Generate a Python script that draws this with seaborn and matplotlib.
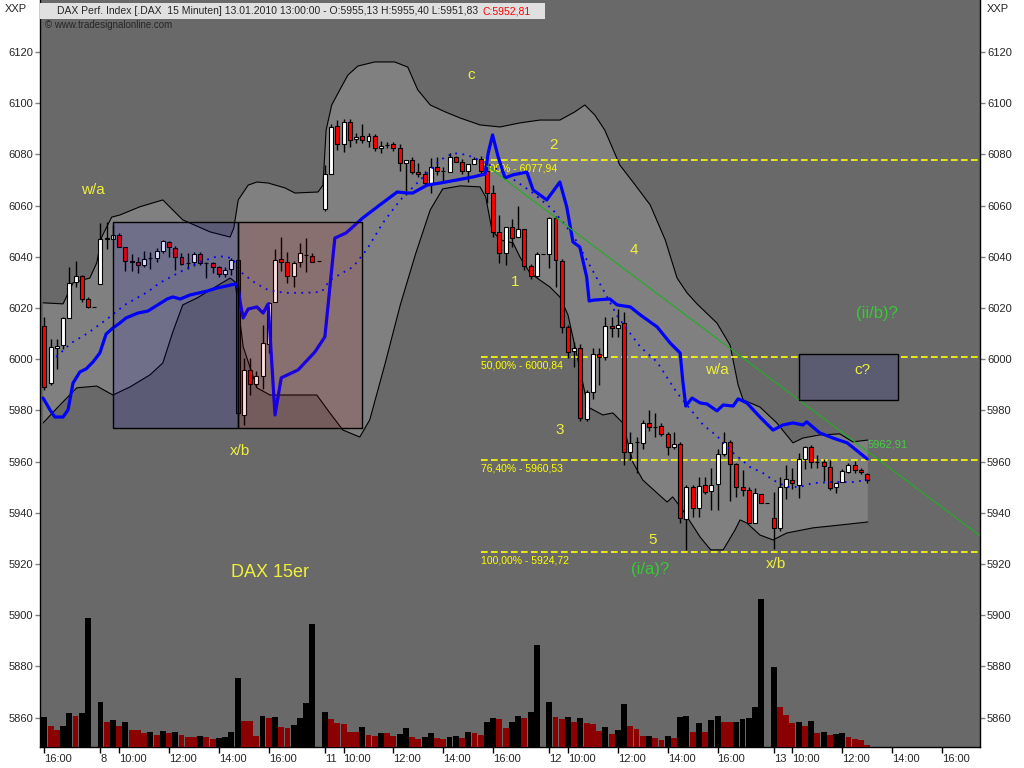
import numpy as np
import pandas as pd
import matplotlib
matplotlib.use("Agg")
import matplotlib.pyplot as plt
import seaborn as sns
from matplotlib.patches import Rectangle

# DAX 15-minute bars, 07.01.2010 16:00 ... 13.01.2010 13:00
# bar 0 = 08.01. 09:15, one session = 36 bars (09:15 ... 18:00)
first_bar = -9

opens = [6012.8, 5990.8, 6004.5, 6005.5, 6016.0, 6030.2, 6032.5, 6023.4, 6020.3,
         6029.2, 6047.0, 6046.8, 6048.4, 6044.0, 6038.5, 6038.1, 6036.6, 6039.4, 6039.4,
         6042.3, 6045.7, 6043.6, 6039.8, 6037.7, 6037.9, 6041.0, 6037.4, 6037.4, 6036.1,
         6033.2, 6035.1, 6038.6, 5978.2, 5995.8, 5990.3, 5993.4, 6005.9, 6022.5, 6039.1,
         6037.9, 6032.5, 6037.9, 6040.7, 6040.3, 6038.4, 6058.6, 6072.3, 6091.0, 6084.0,
         6092.8, 6085.9, 6087.0, 6085.4, 6087.2, 6082.4, 6083.7, 6083.9, 6082.4, 6076.5,
         6077.8, 6073.2, 6072.2, 6068.7, 6075.0, 6073.6, 6073.2, 6078.9, 6077.2, 6073.6,
         6076.1, 6078.1, 6073.6, 6065.0, 6049.8, 6041.6, 6051.5, 6047.6, 6050.7, 6036.5,
         6032.5, 6041.0, 6041.0, 6055.0, 6038.2, 6012.5, 6003.1, 6004.2, 5976.5, 5987.3,
         6002.0, 6000.7, 6013.0, 6012.1, 6014.3, 5963.9, 5967.8, 5967.4, 5975.2, 5973.6,
         5973.9, 5970.8, 5965.6, 5966.9, 5937.5, 5950.2, 5942.0, 5950.8, 5948.6, 5951.2,
         5962.9, 5967.8, 5959.1, 5950.2, 5948.9, 5935.9, 5947.2, 5943.7, 5937.8, 5933.9,
         5949.9, 5952.8, 5950.9, 5960.9, 5965.6, 5960.0, 5960.0, 5958.0, 5949.9, 5952.2,
         5955.8, 5958.6, 5956.7, 5955.1]
highs = [6016.4, 6007.8, 6007.8, 6016.5, 6035.9, 6038.5, 6033.0, 6024.4, 6020.3,
         6053.3, 6053.5, 6052.4, 6049.2, 6044.0, 6041.1, 6040.0, 6042.2, 6042.0, 6043.3,
         6046.6, 6046.2, 6044.4, 6041.4, 6041.4, 6041.8, 6041.8, 6038.1, 6037.8, 6036.5,
         6036.0, 6039.4, 6038.8, 6000.3, 6000.3, 5995.4, 6013.4, 6022.5, 6042.9, 6047.9,
         6042.0, 6038.5, 6045.3, 6047.2, 6041.6, 6038.4, 6075.9, 6092.0, 6093.5, 6094.0,
         6094.0, 6088.5, 6092.0, 6088.5, 6088.0, 6085.4, 6085.0, 6085.0, 6084.0, 6077.8,
         6079.0, 6076.5, 6073.5, 6078.5, 6078.9, 6075.2, 6080.7, 6079.5, 6078.0, 6076.1,
         6078.9, 6079.5, 6077.0, 6068.0, 6056.3, 6051.5, 6054.6, 6059.8, 6050.7, 6037.0,
         6042.0, 6041.0, 6055.5, 6056.0, 6039.0, 6013.5, 6006.8, 6006.0, 5988.0, 6004.2,
         6004.2, 6016.6, 6016.6, 6019.5, 6018.6, 5971.7, 5969.7, 5976.3, 5980.2, 5978.9,
         5975.0, 5971.5, 5971.7, 5967.5, 5950.9, 5951.0, 5954.1, 5954.0, 5957.4, 5965.0,
         5971.7, 5968.5, 5959.5, 5956.7, 5950.0, 5949.6, 5947.5, 5943.7, 5948.3, 5953.9,
         5958.6, 5957.4, 5963.3, 5966.0, 5966.5, 5962.5, 5961.0, 5960.5, 5951.5, 5957.0,
         5959.3, 5960.4, 5957.3, 5955.4]
lows = [5988.0, 5989.9, 5996.1, 6003.9, 6016.0, 6028.3, 6022.5, 6020.0, 6020.3,
        6029.2, 6043.0, 6046.8, 6044.0, 6034.6, 6034.6, 6033.6, 6036.1, 6035.1, 6038.1,
        6041.4, 6040.0, 6034.8, 6036.8, 6035.1, 6036.5, 6036.8, 6031.6, 6033.6, 6032.2,
        6032.0, 6032.9, 5978.2, 5974.3, 5986.0, 5989.3, 5988.2, 6002.5, 6022.5, 6034.6,
        6029.6, 6028.1, 6036.1, 6034.2, 6038.1, 6038.4, 6058.0, 6072.3, 6081.7, 6081.1,
        6083.0, 6084.3, 6084.3, 6083.0, 6081.5, 6080.5, 6082.4, 6081.5, 6073.6, 6064.1,
        6072.3, 6071.0, 6068.0, 6065.0, 6072.0, 6069.3, 6073.2, 6077.0, 6072.5, 6069.3,
        6076.1, 6072.5, 6060.9, 6047.9, 6037.5, 6036.8, 6044.0, 6047.6, 6035.0, 6031.5,
        6032.0, 6041.0, 6035.5, 6028.3, 6010.1, 6000.3, 5997.1, 5976.0, 5975.9, 5984.6,
        5989.9, 5999.5, 6008.8, 6008.5, 5958.7, 5960.6, 5955.7, 5965.0, 5972.0, 5969.7,
        5970.0, 5962.6, 5965.0, 5936.1, 5925.5, 5938.2, 5938.2, 5947.3, 5941.1, 5941.1,
        5962.0, 5944.4, 5946.1, 5946.5, 5935.9, 5935.9, 5943.7, 5943.7, 5926.0, 5933.0,
        5945.5, 5949.2, 5945.7, 5957.0, 5957.4, 5957.4, 5952.5, 5949.0, 5947.9, 5952.0,
        5955.5, 5955.5, 5955.3, 5951.8]
closes = [5989.0, 6004.8, 6005.0, 6016.0, 6029.6, 6032.5, 6023.6, 6020.3, 6020.3,
          6046.8, 6047.2, 6048.4, 6044.0, 6038.5, 6037.9, 6036.7, 6039.0, 6039.4, 6042.3,
          6046.2, 6043.8, 6039.8, 6037.1, 6037.7, 6041.0, 6037.4, 6037.4, 6036.1, 6033.2,
          6034.7, 6038.6, 5978.9, 5995.8, 5990.2, 5993.4, 6006.2, 6022.1, 6038.8, 6037.9,
          6032.5, 6037.4, 6041.4, 6040.7, 6038.1, 6038.4, 6072.3, 6090.8, 6084.0, 6092.8,
          6085.8, 6086.7, 6085.6, 6087.2, 6082.4, 6083.3, 6083.7, 6082.4, 6076.5, 6077.8,
          6073.0, 6072.2, 6068.7, 6075.0, 6073.6, 6073.6, 6078.9, 6077.2, 6073.6, 6076.1,
          6078.1, 6073.6, 6065.0, 6049.8, 6041.6, 6051.5, 6047.2, 6050.7, 6036.5, 6032.5,
          6041.0, 6041.0, 6055.0, 6038.8, 6012.5, 6002.9, 6004.2, 5976.9, 5987.3, 6002.0,
          6000.7, 6013.0, 6012.1, 6013.4, 5963.9, 5967.1, 5967.8, 5975.2, 5973.4, 5973.6,
          5970.8, 5965.8, 5966.7, 5937.8, 5950.0, 5942.0, 5950.5, 5948.1, 5950.9, 5963.0,
          5967.8, 5959.1, 5950.2, 5948.9, 5935.9, 5947.6, 5943.7, 5943.7, 5933.9, 5949.9,
          5953.0, 5951.5, 5960.9, 5965.6, 5960.0, 5960.0, 5958.3, 5949.8, 5951.5, 5956.4,
          5958.6, 5956.7, 5955.8, 5952.8]

volume = [30, 21, 17, 21, 34, 31, 34, 129, 0,
          45, 25, 27, 21, 25, 17, 17, 14, 15, 12,
          16, 14, 15, 12, 10, 10, 11, 10, 8, 9,
          10, 15, 69, 26, 26, 11, 31, 29, 30, 20,
          19, 22, 29, 44, 123, 0, 35, 28, 24, 23,
          15, 15, 20, 12, 11, 14, 14, 11, 13, 19,
          10, 8, 10, 14, 9, 8, 10, 11, 9, 15,
          14, 12, 25, 29, 28, 19, 25, 31, 29, 35,
          102, 0, 45, 30, 28, 30, 25, 29, 24, 23,
          16, 20, 13, 17, 43, 21, 18, 11, 11, 9,
          7, 11, 9, 30, 31, 15, 24, 15, 27, 31,
          25, 25, 25, 28, 29, 40, 148, 0, 80, 40,
          32, 24, 25, 21, 26, 14, 15, 12, 13, 14,
          10, 8, 7, 2]
volume_dir = ("krrkkrkkk" "krkrkrrrkr" "krkrrrkrrk" "kkkrrrkrkr" "rkkkkkkrrr"
              "rrkrrkrrkk" "rrkkrrkkrk" "rrkkrrkkrk" "kkkrrkrkrr" "rkrkkrrrkr"
              "rkrkkrkrkk" "rrkkkkkkkr" "rrkrkrkrkk" "rrrr")

# Bollinger bands (upper / lower) and averages, read at bar positions
bb_up_x = [-9.2, -6.0, -4.4, -1.7, -0.6, 0.2, 1.8, 3.1, 6.3, 10.0, 11.6, 13.2, 17.6, 20.8, 21.4,
           22.1, 23.7, 25.1, 26.9, 29.6, 31.2, 34.9, 35.7, 36.2, 37.1, 38.4, 39.7, 41.3, 44.0,
           47.2, 49.3, 50.9, 52.9, 55.3, 57.7, 60.9, 64.1, 67.3, 70.5, 73.7, 76.1, 77.7, 79.3,
           80.9, 83.3, 85.8, 88.2, 90.6, 92.5, 94.1, 95.7, 98.9, 101.0, 102.3, 103.1, 105.8,
           108.5, 111.1, 112.7, 115.4, 118.6, 120.7, 123.1]
bb_up_y = [6022.0, 6021.6, 6029.8, 6031.7, 6037.6, 6047.7, 6055.5, 6056.3, 6059.5, 6062.2,
           6058.3, 6054.4, 6049.7, 6047.7, 6051.3, 6062.2, 6068.0, 6069.2, 6068.8, 6066.9,
           6064.9, 6065.3, 6068.0, 6089.5, 6099.3, 6105.2, 6111.0, 6114.5, 6116.1, 6116.1,
           6114.1, 6105.2, 6099.3, 6096.6, 6094.2, 6091.5, 6090.7, 6092.3, 6093.4, 6093.4,
           6096.6, 6099.3, 6095.4, 6089.5, 6075.9, 6068.0, 6060.2, 6046.6, 6031.7, 6025.9,
           6021.6, 6014.1, 6005.5, 5989.9, 5984.1, 5981.3, 5975.1, 5967.3, 5969.2, 5970.4,
           5970.8, 5967.7, 5968.4]
bb_lo_x = [-9.2, -6.5, -3.8, -0.6, 2.0, 4.7, 7.9, 10.0, 11.6, 13.2, 15.5, 17.6, 20.8, 21.6,
           22.9, 25.1, 27.2, 34.7, 36.8, 38.9, 41.6, 43.2, 45.6, 48.1, 50.5, 52.9, 54.9, 57.7,
           60.9, 61.8, 62.8, 64.1, 66.2, 67.3, 68.9, 70.5, 72.1, 73.7, 75.0, 76.6, 78.2, 80.6,
           82.2, 83.8, 85.4, 87.0, 89.3, 90.9, 91.8, 93.4, 96.2, 97.9, 99.9, 101.8, 102.6,
           103.7, 105.8, 107.9, 110.1, 114.3, 118.6, 123.1]
bb_lo_y = [5975.1, 5982.1, 5988.8, 5989.5, 5986.0, 5989.1, 5993.8, 5998.5, 6010.6, 6021.2,
           6023.9, 6027.0, 6031.7, 6030.2, 6004.8, 5988.8, 5986.0, 5986.0, 5979.0, 5972.3,
           5969.6, 5976.3, 5997.7, 6021.2, 6040.7, 6058.3, 6066.5, 6067.7, 6067.3, 6063.4,
           6050.5, 6046.6, 6045.4, 6039.9, 6033.7, 6030.9, 6028.2, 6024.3, 6017.3, 5999.7,
           5981.3, 5978.2, 5979.0, 5975.1, 5959.8, 5952.8, 5947.7, 5944.2, 5946.2, 5941.1,
           5930.5, 5925.5, 5925.5, 5933.3, 5937.2, 5936.0, 5931.3, 5929.4, 5932.1, 5934.1,
           5935.2, 5936.4]
ma_x = [-9.2, -8.1, -7.3, -6.0, -5.2, -4.4, -3.3, -2.3, -1.2, -0.1, 0.9, 2.0, 3.1, 4.1, 6.0,
        7.6, 8.4, 10.7, 11.6, 12.8, 14.4, 17.1, 18.7, 20.3, 21.6, 22.1, 22.4, 22.9, 23.7, 25.1,
        26.1, 26.9, 28.0, 29.0, 31.7, 34.4, 36.0, 37.6, 39.4, 42.1, 44.8, 47.6, 49.2, 50.1,
        52.4, 54.5, 57.2, 59.8, 61.7, 62.2, 62.9, 63.8, 64.9, 66.2, 68.4, 69.4, 71.6, 73.7,
        74.8, 75.8, 76.9, 78.0, 78.4, 79.2, 81.7, 82.9, 85.0, 86.6, 89.3, 91.4, 93.0, 93.4,
        93.9, 94.9, 96.2, 97.3, 98.9, 99.9, 101.5, 102.3, 103.7, 105.8, 107.9, 109.5, 111.1,
        112.7, 113.3, 115.4, 117.5, 119.8, 121.8, 123.0]
ma_y = [5984.8, 5980.2, 5977.4, 5977.4, 5980.2, 5990.7, 5995.0, 5996.2, 5998.9, 6002.4,
        6009.8, 6012.2, 6014.1, 6016.1, 6018.0, 6018.8, 6020.0, 6023.5, 6024.3, 6023.5,
        6025.1, 6026.6, 6027.8, 6028.6, 6029.4, 6028.2, 6022.3, 6016.1, 6019.6, 6020.4,
        6018.0, 6021.6, 5978.2, 5992.7, 5995.8, 6002.8, 6008.7, 6047.3, 6049.3, 6055.2,
        6060.2, 6065.3, 6064.9, 6064.9, 6068.0, 6068.8, 6070.0, 6071.2, 6072.3, 6080.5,
        6087.6, 6079.0, 6070.8, 6072.0, 6073.1, 6066.1, 6062.2, 6069.2, 6059.5, 6045.8,
        6043.8, 6032.1, 6022.7, 6023.1, 6023.5, 6021.2, 6020.4, 6017.3, 6012.6, 6006.3,
        6002.4, 5991.9, 5981.7, 5984.8, 5982.9, 5982.5, 5979.8, 5982.1, 5981.7, 5984.5,
        5982.9, 5977.4, 5972.3, 5974.3, 5975.1, 5974.3, 5975.5, 5971.2, 5969.2, 5967.3,
        5963.4, 5961.0]
mid_x = [-7.1, -4.7, -2.0, 1.5, 3.9, 7.6, 9.5, 12.8, 16.0, 18.9, 21.1, 22.7, 24.8, 26.9, 29.6,
         32.8, 35.5, 36.8, 40.5, 42.7, 45.3, 48.1, 51.3, 54.5, 56.6, 58.8, 61.9, 65.2, 69.4,
         72.6, 75.8, 79.8, 83.0, 86.6, 89.3, 92.5, 96.7, 98.9, 101.5, 104.2, 106.3, 107.9,
         110.1, 112.2, 114.3, 117.5, 120.7, 123.0]
mid_y = [6000.9, 6006.3, 6010.2, 6016.5, 6021.2, 6026.3, 6029.8, 6034.1, 6038.0, 6040.3,
         6039.5, 6033.7, 6029.8, 6027.0, 6025.9, 6025.9, 6026.3, 6030.9, 6036.0, 6042.7,
         6053.2, 6062.2, 6070.0, 6077.8, 6080.5, 6079.8, 6076.6, 6072.0, 6064.9, 6058.3,
         6048.5, 6030.9, 6016.5, 6004.8, 5998.9, 5986.8, 5974.3, 5970.0, 5963.4, 5957.9,
         5955.5, 5952.8, 5950.1, 5950.1, 5951.6, 5952.0, 5952.0, 5952.8]

# Fibonacci retracement and trend line
fib_start = 61
fib_pct = ['0,00%', '50,00%', '76,40%', '100,00%']
fib_levels = [6077.94, 6000.84, 5960.53, 5924.72]
trend_x = [62, 141]
trend_y = [6075.5, 5931.2]
trend_label = '5962,91'

# marked zones: (first bar, last bar, low, high)
zones = [(2, 22, 5973.0, 6053.5), (22, 42, 5973.0, 6053.5)]
target_zone = (112, 128, 5984.1, 6002.0)

wave_text = ['w/a', 'c', '2', '1', '4', '3', '5', 'x/b', 'w/a', 'x/b', 'c?']
wave_bar = [-1.2, 59.4, 72.6, 66.5, 85.6, 73.7, 88.6, 22.4, 98.9, 108.4, 122.2]
wave_price = [6066.1, 6111.0, 6083.7, 6030.2, 6042.7, 5972.3, 5929.4, 5964.1, 5995.8, 5920.0, 5995.8]
green_text = ['(ii/b)?', '(i/a)?']
green_bar = [124.6, 88.2]
green_price = [6017.7, 5917.7]

sessions = ['7', '8', '11', '12', '13']
session_start = [-36, 0, 36, 72, 108]
hour_labels = ['10:00', '12:00', '14:00', '16:00']

df = pd.DataFrame({'bar': np.arange(first_bar, first_bar + len(closes)),
                   'open': opens, 'high': highs, 'low': lows, 'close': closes,
                   'volume': volume, 'dir': list(volume_dir)})

sns.set_style('ticks')
plt.rcParams['font.family'] = ['Liberation Sans', 'DejaVu Sans']

x_lo, x_hi = -9.7, 141.1
fig = plt.figure(figsize=(10.24, 7.68), dpi=100, facecolor='white')
ax = fig.add_axes([40 / 1024, 21 / 768, 940 / 1024, 747 / 768])
ax.set_facecolor('#696969')

# bands
ax.fill(np.r_[bb_up_x, bb_lo_x[::-1]], np.r_[bb_up_y, bb_lo_y[::-1]],
        color='#808080', lw=0, zorder=1)
sns.lineplot(x=bb_up_x, y=bb_up_y, ax=ax, color='black', lw=0.8, sort=False, estimator=None, zorder=1.5)
sns.lineplot(x=bb_lo_x, y=bb_lo_y, ax=ax, color='black', lw=0.8, sort=False, estimator=None, zorder=1.5)

# fib lines
ax.hlines(fib_levels, fib_start, x_hi, colors='#ffff00', linestyles=(0, (4, 2)), lw=1.2, zorder=2)
for pct, lvl in zip(fib_pct, fib_levels):
    ax.text(fib_start + 0.1, lvl - 1.4, f"{pct} - {lvl:.2f}".replace('.', ','),
            color='#ffff00', fontsize=7.5, ha='left', va='top', zorder=2.5)

# candles
up = df['close'] >= df['open']
ax.vlines(df['bar'], df['low'], df['high'], color='black', lw=1, zorder=3)
ax.bar(df['bar'], (df['close'] - df['open']).abs(), bottom=df[['open', 'close']].min(axis=1),
       width=0.64, color=np.where(up, 'white', '#ff0000'), edgecolor='black', lw=0.8, zorder=3.5)

# averages
sns.lineplot(x=mid_x, y=mid_y, ax=ax, color='#0000ff', lw=1.3, linestyle=(0, (1, 3)),
             sort=False, estimator=None, zorder=4)
sns.lineplot(x=ma_x, y=ma_y, ax=ax, color='#0000ff', lw=2.3, sort=False, estimator=None, zorder=4.5)
sns.lineplot(x=trend_x, y=trend_y, ax=ax, color='#20b020', lw=0.8, sort=False, estimator=None, zorder=4.6)

# zones
zone_colors = [(0, 0, 0.8, 0.13), (0.8, 0, 0, 0.12)]
for (b0, b1, lo, hi), fc in zip(zones, zone_colors):
    ax.add_patch(Rectangle((b0, lo), b1 - b0, hi - lo, facecolor=fc, edgecolor='black', lw=1, zorder=5))
b0, b1, lo, hi = target_zone
ax.add_patch(Rectangle((b0, lo), b1 - b0, hi - lo, facecolor='#5b5b72', edgecolor='black', lw=1, zorder=5))

# labels
for t, bx, py in zip(wave_text, wave_bar, wave_price):
    ax.text(bx, py, t, color='#f0f03c', fontsize=11, ha='center', va='center', zorder=7)
for t, bx, py in zip(green_text, green_bar, green_price):
    ax.text(bx, py, t, color='#33cc33', fontsize=12, ha='center', va='center', zorder=7)
ax.text(123, 5966.5, trend_label, color='#44cc44', fontsize=8, ha='left', va='center', zorder=7)
ax.text(27.2, 5916.5, 'DAX 15er', color='#f0f03c', fontsize=13, ha='center', va='center', zorder=7)

# volume
ax2 = ax.twinx()
ax2.bar(df['bar'], df['volume'], width=0.95,
        color=np.where(df['dir'] == 'k', 'black', '#8b0000'), lw=0)
ax2.set_ylim(0, 747)
ax2.axis('off')

# axes
ax.set_xlim(x_lo, x_hi)
ax.set_ylim(5848.5, 6140.3)
ax2.set_xlim(x_lo, x_hi)
yt = list(range(5860, 6121, 20))
ax.set_yticks(yt, labels=[str(v) for v in yt])
ax.yaxis.set_ticks_position('both')
ax.tick_params(axis='y', labelleft=True, labelright=True, direction='out', length=3.5,
               width=1, color='#808080', labelsize=8, pad=1.5)

def bar_offset(hhmm):
    h, m = map(int, hhmm.split(':'))
    return (h * 60 + m - (9 * 60 + 15)) // 15

xt, xl = [], []
for day, start in zip(sessions, session_start):
    xt.append(start)
    xl.append(day)
    for hl in hour_labels:
        xt.append(start + bar_offset(hl))
        xl.append(hl)
keep = [(p, s) for p, s in zip(xt, xl) if x_lo <= p <= x_hi]
ax.set_xticks([p for p, _ in keep], labels=[s for _, s in keep])
ax.tick_params(axis='x', direction='out', length=4, width=1, color='black', labelsize=8, pad=1)
for lab in ax.get_xticklabels():
    lab.set_horizontalalignment('left')
ax.set_xlabel('')
ax.set_ylabel('')
ax.spines['top'].set_visible(False)
for s in ['left', 'right', 'bottom']:
    ax.spines[s].set_color('black')
    ax.spines[s].set_linewidth(1)

# header
fig.patches.append(Rectangle((40 / 1024, 1 - 19 / 768), 505 / 1024, 16 / 768,
                             transform=fig.transFigure, facecolor='#e0e0e0', edgecolor='none', zorder=10))
hdr = fig.text(57 / 1024, 1 - 11 / 768,
               "DAX Perf. Index [.DAX  15 Minuten] 13.01.2010 13:00:00 - O:5955,13 H:5955,40 L:5951,83",
               fontsize=7.5, va='center', ha='left', zorder=11)
fig.canvas.draw()
hdr_end = hdr.get_window_extent().x1 / fig.bbox.width
fig.text(hdr_end + 4 / 1024, 1 - 11 / 768, 'C:5952,81', fontsize=7.5, color='red',
         va='center', ha='left', zorder=11)
fig.text(45 / 1024, 1 - 25 / 768, '\u00a9 www.tradesignalonline.com', fontsize=7, va='center', zorder=11)
fig.text(5 / 1024, 1 - 9 / 768, 'XXP', fontsize=8, va='center')
fig.text(987 / 1024, 1 - 9 / 768, 'XXP', fontsize=8, va='center')

fig.savefig('out.png', dpi=100, facecolor='white')
